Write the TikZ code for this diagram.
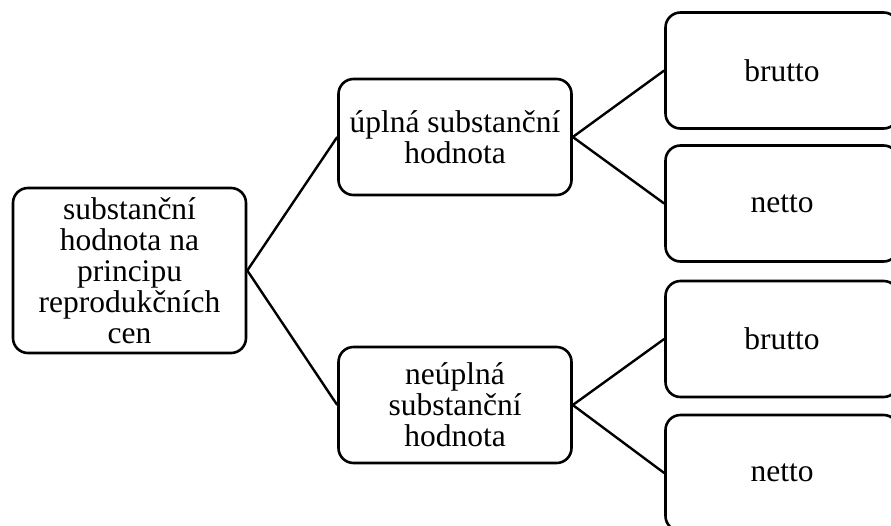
\documentclass[tikz,border=0pt]{standalone}
\usepackage{fontspec}
\setmainfont{Liberation Serif}
\begin{document}
\begin{tikzpicture}[x=1pt,y=-1pt,
  box/.style={draw=black, line width=2.6pt, rounded corners=15pt, fill=white,
    minimum width=233pt, minimum height=116pt, inner sep=0pt, align=center,
    font=\fontsize{31.5}{31}\selectfont},
  conn/.style={draw=black, line width=2.4pt}]
\useasboundingbox (0,0) rectangle (891,525);
\clip (0,0) rectangle (891,525);
\node[box, minimum height=165pt] (root) at (129.5,270.5) {substanční\\hodnota na\\principu\\reprodukčních\\cen};
\node[box] (mt) at (455,137) {úplná substanční\\hodnota};
\node[box] (mb) at (455,405) {neúplná\\substanční\\hodnota};
\node[box] (r1) at (782,70.5) {brutto};
\node[box] (r2) at (782,203.5) {netto};
\node[box] (r3) at (782,339) {brutto};
\node[box] (r4) at (782,473) {netto};
\draw[conn] (root.east) -- (mt.west);
\draw[conn] (root.east) -- (mb.west);
\draw[conn] (mt.east) -- (r1.west);
\draw[conn] (mt.east) -- (r2.west);
\draw[conn] (mb.east) -- (r3.west);
\draw[conn] (mb.east) -- (r4.west);
\end{tikzpicture}
\end{document}
